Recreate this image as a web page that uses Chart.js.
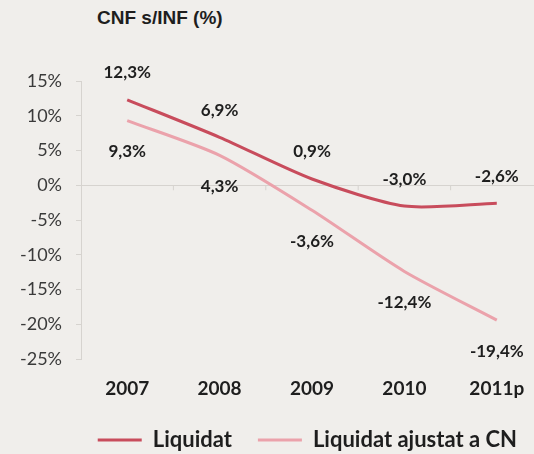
<!DOCTYPE html>
<html>
<head>
<meta charset="utf-8">
<script src="https://cdn.jsdelivr.net/npm/chart.js@4"></script>
<style>
  html, body { margin: 0; padding: 0; background: #f0eeeb; overflow: hidden; }
  #wrap { position: relative; width: 534px; height: 454px; overflow: hidden; }
  #title { position: absolute; left: 97px; top: 7px; font: bold 19px "Liberation Sans", Arial, sans-serif; color: #1e1e1e; }
  canvas { position: absolute; left: 0; top: 0; }
</style>
</head>
<body>
<div id="wrap">
  <div id="title">CNF s/INF (%)</div>
  <canvas id="linechart" width="560" height="461"></canvas>
</div>
<script>
const years = ['2007', '2008', '2009', '2010', '2011p'];
const liquidat = [12.3, 6.9, 0.9, -3.0, -2.6];
const liquidatAjustat = [9.3, 4.3, -3.6, -12.4, -19.4];
const yTicks = [-25, -20, -15, -10, -5, 0, 5, 10, 15];

const darkRed = '#c84c5c';
const lightRed = '#eba2ab';
const axisGray = '#d6d3cf';

function formatValue(v)
{
    return v.toFixed(1).replace('.', ',') + '%';
}

// value labels above (Liquidat) and below (ajustat) the points
const valueLabels = {
    id: 'valueLabels',
    afterDatasetsDraw(chart) {
        const ctx = chart.ctx;
        ctx.save();
        ctx.font = 'bold 17px Lato, sans-serif';
        ctx.fillStyle = '#1e1e1e';
        ctx.textAlign = 'center';
        ctx.textBaseline = 'middle';
        chart.data.datasets.forEach((ds, i) => {
            const meta = chart.getDatasetMeta(i);
            meta.data.forEach((pt, j) => {
                ctx.fillText(formatValue(ds.data[j]), pt.x, pt.y + ds.labelOffset);
            });
        });
        ctx.restore();
    }
};

// small tick marks hanging from the zero line between categories
const zeroTicks = {
    id: 'zeroTicks',
    beforeDatasetsDraw(chart) {
        const x = chart.scales.x;
        const y = chart.scales.y;
        const y0 = y.getPixelForValue(0);
        const ctx = chart.ctx;
        ctx.save();
        ctx.strokeStyle = axisGray;
        ctx.lineWidth = 1;
        for (let i = 0; i < years.length - 1; i++) {
            const xb = (x.getPixelForValue(i) + x.getPixelForValue(i + 1)) / 2;
            ctx.beginPath();
            ctx.moveTo(xb, y0);
            ctx.lineTo(xb, y0 + 5);
            ctx.stroke();
        }
        ctx.restore();
    }
};

const canvas = document.getElementById('linechart');

new Chart(canvas, {
    type: 'line',
    data: {
        labels: years,
        datasets: [
            {
                label: 'Liquidat',
                data: liquidat,
                borderColor: darkRed,
                backgroundColor: darkRed,
                borderWidth: 3,
                pointRadius: 0,
                tension: 0.25,
                labelOffset: -27,
            },
            {
                label: 'Liquidat ajustat a CN',
                data: liquidatAjustat,
                borderColor: lightRed,
                backgroundColor: lightRed,
                borderWidth: 3,
                pointRadius: 0,
                tension: 0.25,
                labelOffset: 31,
            },
        ],
    },
    plugins: [zeroTicks, valueLabels],
    options: {
        responsive: false,
        animation: false,
        layout: {
            padding: { top: 81, left: 0, right: 17, bottom: 0 },
        },
        scales: {
            x: {
                offset: true,
                grid: { display: false, drawTicks: false },
                border: { display: false },
                afterFit: (scale) => {
                    scale.height = 44;
                },
                ticks: {
                    padding: 18,
                    color: '#1e1e1e',
                    font: { family: 'Lato', size: 19, weight: 'bold' },
                },
            },
            y: {
                min: -25,
                max: 15,
                afterBuildTicks: (scale) => {
                    scale.ticks = yTicks.map((v) => ({ value: v }));
                },
                afterFit: (scale) => {
                    scale.width = 81;
                },
                border: { color: axisGray },
                grid: {
                    color: (ctx) => (ctx.tick && ctx.tick.value === 0 ? axisGray : 'transparent'),
                    tickColor: axisGray,
                    tickLength: 5,
                },
                ticks: {
                    padding: 14,
                    color: '#3a3a3a',
                    font: { family: 'Lato', size: 18 },
                    callback: (v) => v + '%',
                },
            },
        },
        plugins: {
            title: { display: false },
            tooltip: { enabled: false },
            legend: {
                position: 'bottom',
                align: 'end',
                labels: {
                    usePointStyle: true,
                    pointStyle: 'line',
                    pointStyleWidth: 44,
                    padding: 26,
                    color: '#1e1e1e',
                    font: { family: 'Lato', size: 22, weight: 'bold' },
                },
            },
        },
    },
});
</script>
</body>
</html>
